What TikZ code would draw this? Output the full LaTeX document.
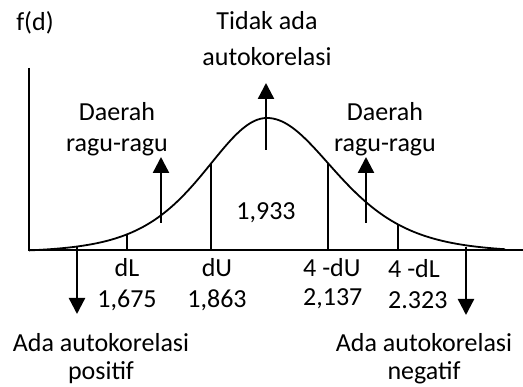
\documentclass[tikz,border=0pt]{standalone}
\usepackage{fontspec}
\setmainfont{Carlito}
\usetikzlibrary{arrows.meta,scopes}

\begin{document}
\begin{tikzpicture}[x=1pt,y=-1pt,
        lbl/.style={font=\fontsize{26}{31}\selectfont,inner sep=0pt,align=center,anchor=base},
        arr/.style={line width=2.4pt,-{Triangle[width=16pt,length=16pt]}},
        bar/.style={line width=1.4pt},
        declare function={fd(\x)=250-134.3/(cosh((\x-267)/(\x<267?84:92)))^2+2.24;}]
        \useasboundingbox (0,0) rectangle (523,387);
        % axes and curve
        \coordinate (top) at (29,68);
        \coordinate (o) at (29,250);
        \coordinate (end) at (523,250);
        \draw[line width=1.8pt] (top) -- (o) -- (end);
        \draw[line width=1.8pt] plot[domain=29:505,samples=120,smooth] (\x,{fd(\x)});
        \foreach \p/\n in {127/kl,211/ku,328/ru,398/rl}{
            \coordinate (\n0) at (\p,250);
            \coordinate (\n1) at (\p,{fd(\p)});
            \draw[bar] (\n0) -- (\n1);
        }
        % labels (base = last line)
        \node[lbl] (fdl) at (35,31) {f(d)};
        \node[lbl] (nul) at (267,66) {Tidak ada\\[5pt]autokorelasi};
        \node[lbl] (ragl) at (117,152) {Daerah\\ragu-ragu};
        \node[lbl] (ragr) at (385,152) {Daerah\\ragu-ragu};
        \node[lbl] (dw) at (266,220) {1,933};
        \node[lbl] (dl) at (127,308) {dL\\1,675};
        \node[lbl] (du) at (217,308) {dU\\1,863};
        \node[lbl,anchor=base west,align=left] (rdu) at (303,306) {4 -dU\\[-2pt]2,137};
        \node[lbl,anchor=base west,align=left] (rdl) at (388,309) {4 -dL\\2.323};
        \node[lbl] (pos) at (101,380) {Ada autokorelasi\\[-3pt]positif};
        \node[lbl] (neg) at (424,380) {Ada autokorelasi\\[-3pt]negatif};
        % arrows
        \coordinate (a0) at (161,223); \coordinate (a1) at (161,157);
        \coordinate (b0) at (266,150); \coordinate (b1) at (266,83);
        \coordinate (c0) at (366,223); \coordinate (c1) at (366,157);
        \coordinate (p0) at (77,247);  \coordinate (p1) at (77,314);
        \coordinate (n0) at (466,247); \coordinate (n1) at (466,315);
        {[arr]
        \draw (a0) -- (a1);
        \draw (b0) -- (b1);
        \draw (c0) -- (c1);
        \draw (p0) -- (p1);
        \draw (n0) -- (n1);
        }
\end{tikzpicture}
\end{document}
